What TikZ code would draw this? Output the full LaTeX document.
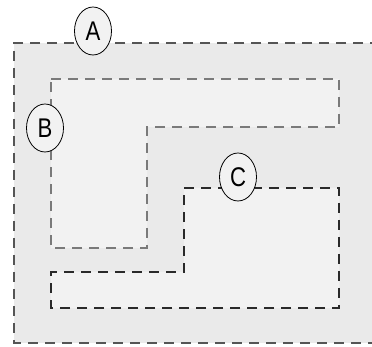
\documentclass[tikz,border=0pt]{standalone}
\usepackage{fontspec}
\setmainfont{Liberation Sans}
\usetikzlibrary{shapes.geometric}
\definecolor{outerfill}{HTML}{EAEAEA}
\definecolor{innerfill}{HTML}{F2F2F2}
\definecolor{dashA}{HTML}{555555}
\definecolor{dashB}{HTML}{7A7A7A}
\definecolor{dashC}{HTML}{2A2A2A}
\newcommand{\tagtext}[1]{\scalebox{0.82}[1]{#1}}
\tikzset{
  region/.style={line width=1.6pt, dash pattern=on 10pt off 7pt},
  tag/.style={ellipse, draw=black, line width=0.8pt, fill=innerfill,
    minimum width=37pt, minimum height=48pt, inner sep=0pt,
    font=\fontsize{27}{27}\selectfont}
}
\begin{document}
\begin{tikzpicture}[x=1pt,y=-1pt]
\useasboundingbox (0,0) rectangle (372,347);
% region A
\path[fill=outerfill] (14,43) rectangle (380,343);
\draw[region,draw=dashA] (380,43) -- (14,43) -- (14,343) -- (380,343);
% region B
\draw[region,draw=dashB,fill=innerfill]
  (51,79) -- (339,79) -- (339,127) -- (147,127) -- (147,248) -- (51,248) -- cycle;
% region C
\draw[region,draw=dashC,fill=innerfill]
  (184,188) -- (339,188) -- (339,308) -- (51,308) -- (51,272) -- (184,272) -- cycle;
% labels
\node[tag] (A) at (93,31) {\tagtext{A}};
\node[tag] (B) at (45,128) {\tagtext{B}};
\node[tag] (C) at (238,177) {\tagtext{C}};
\end{tikzpicture}
\end{document}
